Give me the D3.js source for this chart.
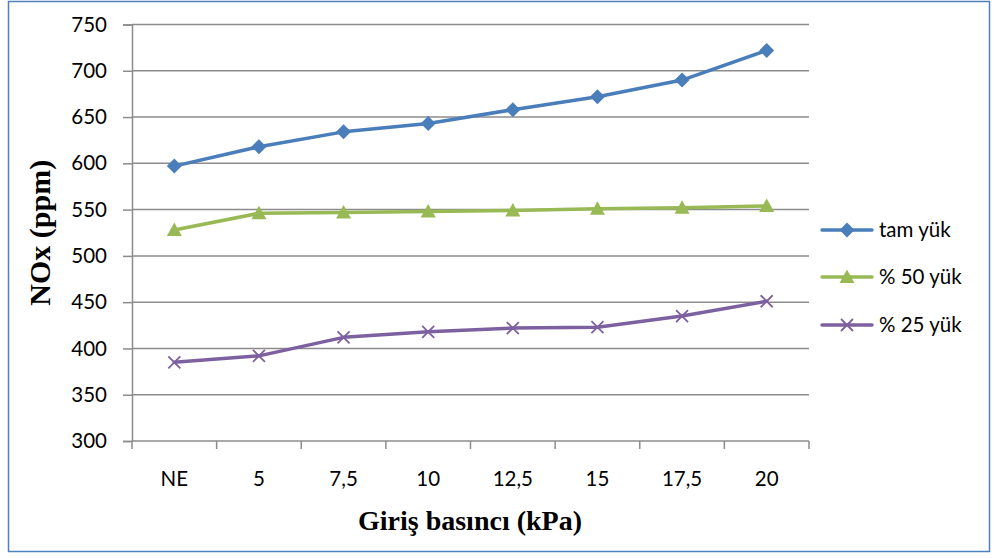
<!DOCTYPE html>
<html>
<head>
<meta charset="utf-8">
<script src="https://cdn.jsdelivr.net/npm/d3@7"></script>
<style>
  html, body { margin: 0; padding: 0; background: #fff; }
  svg { display: block; }
</style>
</head>
<body>
<svg id="chart" width="997" height="558"></svg>
<script>
// Inlet pressure categories and NOx readings (ppm) per load case
const categories = ["NE", "5", "7,5", "10", "12,5", "15", "17,5", "20"];
const tamYuk   = [597, 618, 634, 643, 658, 672, 690, 722];
const yuk50    = [528, 546, 547, 548, 549, 551, 552, 554];
const yuk25    = [385, 392, 412, 418, 422, 423, 435, 451];
const yTicks   = [300, 350, 400, 450, 500, 550, 600, 650, 700, 750];

const series = [
  { name: "tam yük",  values: tamYuk, color: "#4A7EBB", marker: "diamond" },
  { name: "% 50 yük", values: yuk50,  color: "#98B954", marker: "triangle" },
  { name: "% 25 yük", values: yuk25,  color: "#7D60A0", marker: "cross" }
];

const svg = d3.select("#chart");
const plot = { left: 132, right: 809, top: 24.5, bottom: 441 };
const labelFont = "Lato, 'Open Sans', 'Liberation Sans', sans-serif";
const titleFont = "'Liberation Serif', 'DejaVu Serif', serif";
const gridColor = "#8C8C8C";

// outer frame
svg.append("rect")
  .attr("x", 8.5).attr("y", 1.5).attr("width", 981).attr("height", 550)
  .attr("fill", "#fff").attr("stroke", "#4F81BD").attr("stroke-width", 1.5);

const x = d3.scaleBand().domain(categories).range([plot.left, plot.right]);
const y = d3.scaleLinear().domain([300, 750]).range([plot.bottom, plot.top]);

// horizontal gridlines
svg.append("g").selectAll("line").data(yTicks.filter(t => t > 300)).join("line")
  .attr("x1", plot.left).attr("x2", plot.right)
  .attr("y1", d => y(d)).attr("y2", d => y(d))
  .attr("stroke", gridColor).attr("stroke-width", 1.5);

// y axis
const yAxis = svg.append("g")
  .attr("transform", `translate(${plot.left},0)`)
  .call(d3.axisLeft(y).tickValues(yTicks).tickSize(9).tickPadding(6).tickFormat(d3.format("d")));
yAxis.select(".domain").attr("stroke", gridColor).attr("stroke-width", 1.5);
yAxis.selectAll(".tick line").attr("stroke", gridColor).attr("stroke-width", 1.5);
yAxis.selectAll(".tick text")
  .attr("font-family", labelFont).attr("font-size", 20.5).attr("fill", "#000").attr("x", -25);

// x axis with tick marks on category boundaries
const xAxisG = svg.append("g").attr("transform", `translate(0,${plot.bottom})`);
xAxisG.append("line")
  .attr("x1", plot.left).attr("x2", plot.right).attr("y1", 0).attr("y2", 0)
  .attr("stroke", gridColor).attr("stroke-width", 1.5);
const bounds = categories.map(c => x(c)).concat([x(categories[categories.length - 1]) + x.bandwidth()]);
xAxisG.selectAll("line.bt").data(bounds).join("line").attr("class", "bt")
  .attr("x1", d => d).attr("x2", d => d).attr("y1", 0).attr("y2", 8)
  .attr("stroke", gridColor).attr("stroke-width", 1.5);
xAxisG.selectAll("text").data(categories).join("text")
  .attr("x", d => x(d) + x.bandwidth() / 2).attr("y", 45)
  .attr("text-anchor", "middle")
  .attr("font-family", labelFont).attr("font-size", 20.5).attr("fill", "#000")
  .text(d => d);

// axis titles
svg.append("text")
  .attr("transform", `translate(50,${(plot.top + plot.bottom) / 2}) rotate(-90)`)
  .attr("text-anchor", "middle")
  .attr("font-family", titleFont).attr("font-weight", "bold").attr("font-size", 30)
  .text("NOx (ppm)");
svg.append("text")
  .attr("x", 470).attr("y", 530)
  .attr("text-anchor", "middle")
  .attr("font-family", titleFont).attr("font-weight", "bold").attr("font-size", 28)
  .text("Giriş basıncı (kPa)");

// marker drawing helper
function drawMarker(g, type, color) {
  if (type === "diamond") {
    g.append("path").attr("d", "M0,-7.5L7.5,0L0,7.5L-7.5,0Z").attr("fill", color);
  } else if (type === "triangle") {
    g.append("path").attr("d", "M0,-7.5L7.5,6L-7.5,6Z").attr("fill", color);
  } else {
    g.append("path").attr("d", "M-6,-6L6,6M-6,6L6,-6")
      .attr("stroke", color).attr("stroke-width", 1.8).attr("fill", "none");
  }
}

const line = d3.line()
  .x((d, i) => x(categories[i]) + x.bandwidth() / 2)
  .y(d => y(d));

series.forEach(s => {
  svg.append("path").datum(s.values)
    .attr("d", line).attr("fill", "none")
    .attr("stroke", s.color).attr("stroke-width", 3.5)
    .attr("stroke-linejoin", "round").attr("stroke-linecap", "round");
  s.values.forEach((v, i) => {
    const g = svg.append("g")
      .attr("transform", `translate(${x(categories[i]) + x.bandwidth() / 2},${y(v)})`);
    drawMarker(g, s.marker, s.color);
  });
});

// legend
const legendY = [230, 277, 325];
series.forEach((s, i) => {
  const g = svg.append("g").attr("transform", `translate(822,${legendY[i]})`);
  g.append("line").attr("x1", 0).attr("x2", 50).attr("y1", 0).attr("y2", 0)
    .attr("stroke", s.color).attr("stroke-width", 3.5).attr("stroke-linecap", "round");
  const m = g.append("g").attr("transform", "translate(25,0)");
  drawMarker(m, s.marker, s.color);
  g.append("text").attr("x", 57).attr("y", 7)
    .attr("font-family", labelFont).attr("font-size", 20.5).attr("fill", "#000")
    .text(s.name);
});
</script>
</body>
</html>
